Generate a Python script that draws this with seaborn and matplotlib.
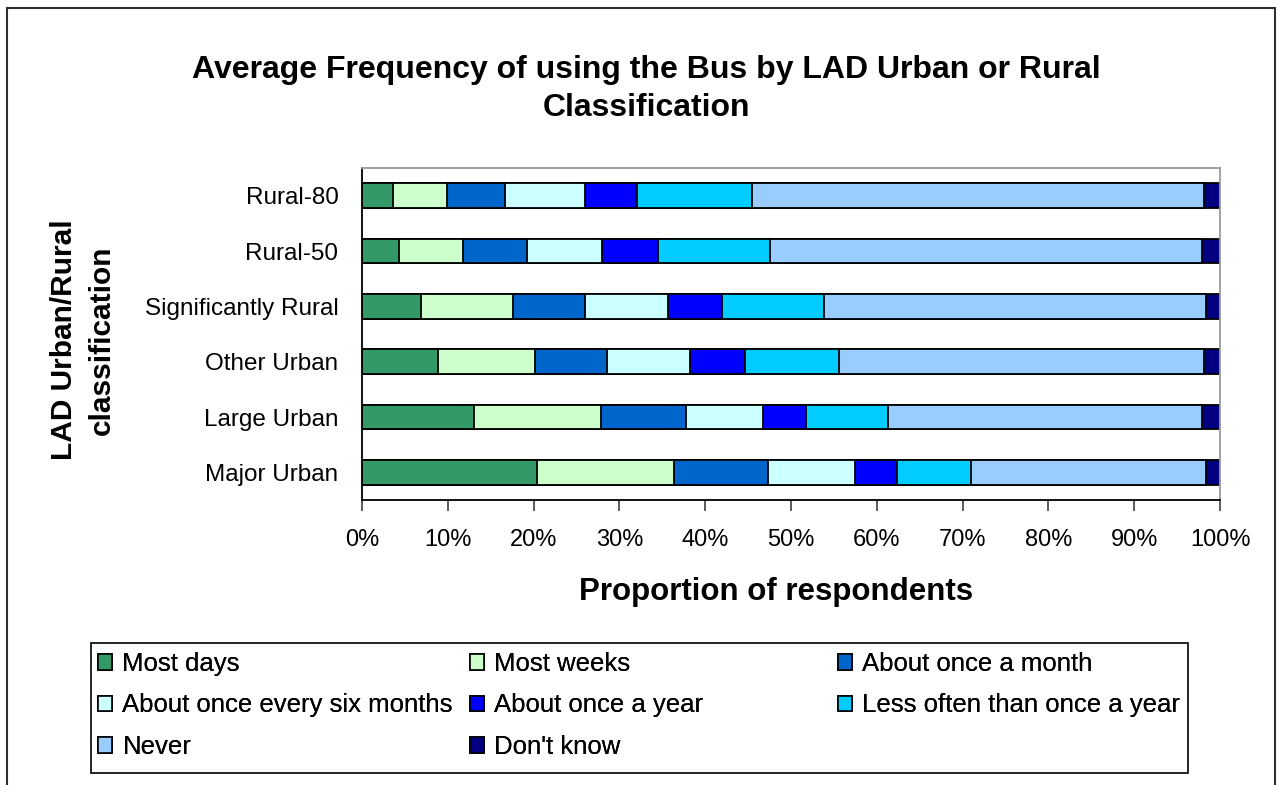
import matplotlib
matplotlib.use("Agg")
import matplotlib.pyplot as plt
from matplotlib.patches import Patch, Rectangle
import seaborn as sns
import numpy as np
import pandas as pd

# categories (top to bottom) and share of respondents (%) per frequency band
areas = ["Rural-80", "Rural-50", "Significantly Rural", "Other Urban", "Large Urban", "Major Urban"]

most_days = [3.6, 4.3, 6.9, 8.8, 13.0, 20.4]
most_weeks = [6.3, 7.5, 10.7, 11.4, 14.8, 16.0]
once_month = [6.8, 7.4, 8.4, 8.3, 10.0, 10.9]
six_months = [9.3, 8.8, 9.7, 9.7, 8.9, 10.2]
once_year = [6.0, 6.5, 6.3, 6.4, 5.0, 4.9]
less_often = [13.5, 13.1, 11.8, 11.0, 9.6, 8.6]
never = [52.6, 50.3, 44.6, 42.5, 36.6, 27.4]
dont_know = [1.9, 2.1, 1.6, 1.9, 2.1, 1.6]

series_names = ["Most days", "Most weeks", "About once a month", "About once every six months",
                "About once a year", "Less often than once a year", "Never", "Don't know"]
series_colors = ["#339966", "#CCFFCC", "#0066CC", "#CCFFFF", "#0000FF", "#00CCFF", "#99CCFF", "#000080"]
pct_ticks = list(range(0, 101, 10))

df = pd.DataFrame(
    dict(zip(series_names, [most_days, most_weeks, once_month, six_months,
                            once_year, less_often, never, dont_know])),
    index=areas,
)
cum = df.cumsum(axis=1)

sns.set_theme(style="white")
plt.rcParams["font.family"] = ["Liberation Sans", "DejaVu Sans"]
plt.rcParams["text.color"] = "black"
plt.rcParams["xtick.color"] = "black"
plt.rcParams["ytick.color"] = "black"

fig = plt.figure(figsize=(12.84, 7.85), dpi=100)
W, H = 1284, 785
ax = fig.add_axes([362 / W, 1 - 500 / H, (1220 - 362) / W, (500 - 168) / H])

# stacked bars: draw cumulative totals from the last band backwards
for name, col in zip(series_names[::-1], series_colors[::-1]):
    sns.barplot(x=cum[name].values, y=areas, orient="h", color=col, saturation=1,
                edgecolor="black", linewidth=1.3, width=0.44, ax=ax)

ax.set_xlim(0, 100)
ax.set_ylim(len(areas) - 0.5, -0.5)
ax.set_xticks(pct_ticks)
ax.set_xticklabels([f"{t}%" for t in pct_ticks], fontsize=17)
ax.set_yticks(range(len(areas)))
ax.set_yticklabels(areas, fontsize=17.5)
ax.set_yticks(np.arange(-0.5, len(areas)), minor=True)
ax.tick_params(axis="y", which="major", length=0, pad=17)
ax.tick_params(axis="y", which="minor", length=8, width=1.2, color="#404040", direction="out")
ax.tick_params(axis="x", length=8, width=1.2, color="#404040", direction="out", pad=13, bottom=True)
ax.set_xlabel("")
ax.set_ylabel("")
for s in ["left", "bottom"]:
    ax.spines[s].set_color("black")
    ax.spines[s].set_linewidth(1.3)
for s in ["top", "right"]:
    ax.spines[s].set_color("#9a9a9a")
    ax.spines[s].set_linewidth(1.3)

# titles
fig.text(646 / W, 1 - 89 / H, "Average Frequency of using the Bus by LAD Urban or Rural\nClassification",
         ha="center", va="center", fontsize=23, fontweight="bold", linespacing=1.38)
fig.text(776 / W, 1 - 592 / H, "Proportion of respondents", ha="center", va="center",
         fontsize=22.5, fontweight="bold")
fig.text(83 / W, 1 - 340 / H, "LAD Urban/Rural\nclassification", ha="center", va="center",
         rotation=90, fontsize=21.5, fontweight="bold", linespacing=1.45)

# legend box and figure frame
fig.patches.append(Rectangle((91 / W, 1 - 773 / H), (1188 - 91) / W, (773 - 643) / H,
                             transform=fig.transFigure, fill=False, edgecolor="black", linewidth=1.2))
fig.patches.append(Rectangle((7 / W, -0.02), (1275 - 7) / W, 1 - 8 / H + 0.02,
                             transform=fig.transFigure, fill=False, edgecolor="#303030", linewidth=1.5))

handles = [Patch(facecolor=c, edgecolor="black", linewidth=1.2) for c in series_colors]
columns = [[0, 3, 6], [1, 4, 7], [2, 5]]
col_x = [98, 470, 838]
for idx, x in zip(columns, col_x):
    leg = fig.legend([handles[i] for i in idx], [series_names[i] for i in idx],
                     loc="upper left", bbox_to_anchor=(x / W, 1 - 652 / H),
                     frameon=False, fontsize=18.5, handlelength=0.55, handleheight=0.55,
                     handletextpad=0.4, labelspacing=0.68, borderpad=0, borderaxespad=0)
    fig.add_artist(leg)

fig.savefig("out.png", dpi=100, facecolor="white")
